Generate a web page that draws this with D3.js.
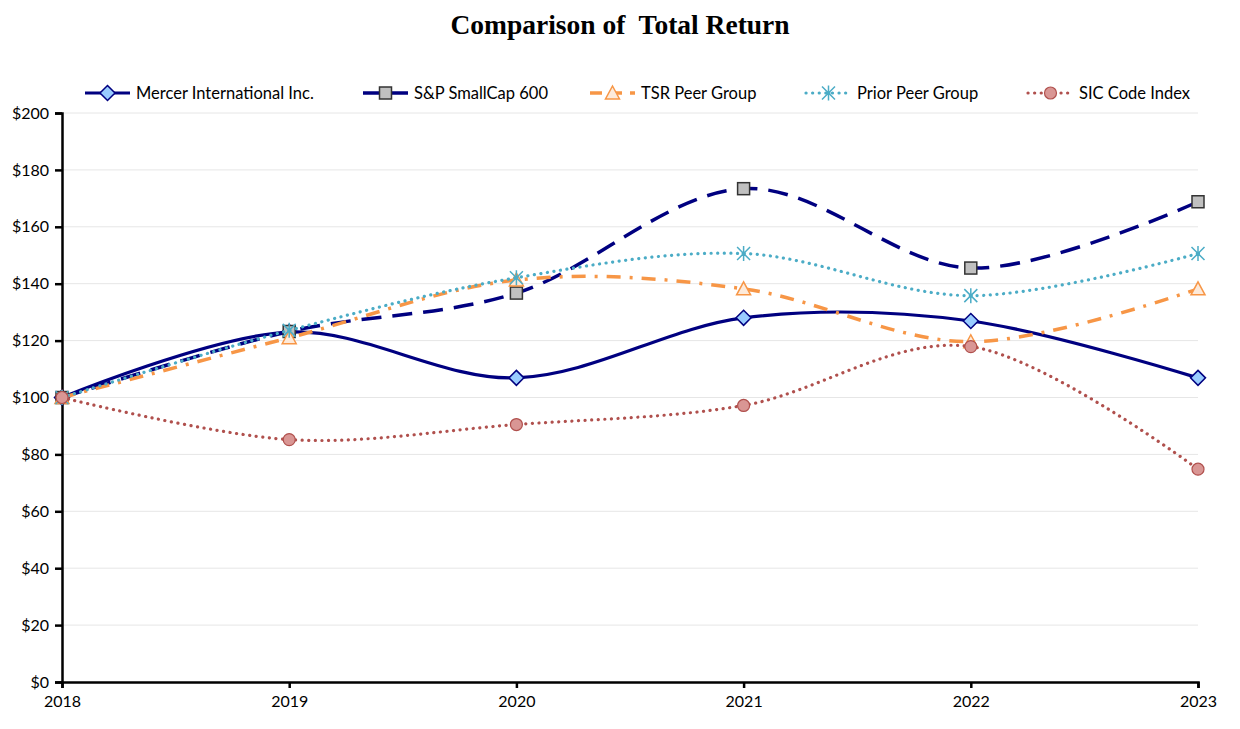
<!DOCTYPE html>
<html><head><meta charset="utf-8">
<script src="https://cdn.jsdelivr.net/npm/d3@7/dist/d3.min.js"></script>
<style>
body{margin:0;background:#fff;}
svg{display:block;}
text{font-family:Lato,"Open Sans",sans-serif;}
</style></head>
<body>
<svg id="c" width="1240" height="729"></svg>
<script>
const years = [2018, 2019, 2020, 2021, 2022, 2023];
const yTicks = [0, 20, 40, 60, 80, 100, 120, 140, 160, 180, 200];
const mercer = [100, 123.0, 106.9, 128.0, 126.9, 106.9];
const spSmallCap = [100, 123.2, 136.7, 173.4, 145.5, 168.8];
const tsrPeer = [100, 121.0, 141.3, 138.2, 119.6, 138.2];
const priorPeer = [100, 123.6, 142.1, 150.6, 135.8, 150.6];
const sicIndex = [100, 85.2, 90.5, 97.2, 117.9, 74.8];

const seriesNames = ["Mercer International Inc.", "S&P SmallCap 600", "TSR Peer Group", "Prior Peer Group", "SIC Code Index"];
const seriesValues = [mercer, spSmallCap, tsrPeer, priorPeer, sicIndex];

const styles = [
  {color:"#000080", width:3.2, dash:null, cap:"butt", marker:"diamond", fill:"#99CCFF", mstroke:"#000080"},
  {color:"#000080", width:3.5, dash:"20,11", cap:"butt", marker:"square", fill:"#C0C0C0", mstroke:"#333333"},
  {color:"#F79646", width:3.5, dash:"14,9,3,9", cap:"butt", marker:"triangle", fill:"#FDEADA", mstroke:"#F79646"},
  {color:"#4BACC6", width:3.2, dash:"0.1,6.5", cap:"round", marker:"star", fill:"none", mstroke:"#4BACC6"},
  {color:"#B0504D", width:3.2, dash:"0.1,6.5", cap:"round", marker:"circle", fill:"#D99694", mstroke:"#B0504D"}
];

const svg = d3.select("#c");
const x = d3.scaleLinear().domain([2018, 2023]).range([62, 1198]);
const y = d3.scaleLinear().domain([0, 200]).range([682, 113]);

// title
svg.append("text").attr("x", 620).attr("y", 34).attr("text-anchor", "middle")
  .style("font-family", "'Liberation Serif','Times New Roman',serif").style("font-weight", "bold")
  .style("font-size", "27.5px").style("white-space", "pre").text("Comparison of  Total Return");

// gridlines
svg.append("g").selectAll("line").data(yTicks.filter(d => d > 0)).join("line")
  .attr("x1", 62).attr("x2", 1198).attr("y1", d => y(d)).attr("y2", d => y(d))
  .attr("stroke", "#e6e6e6").attr("stroke-width", 1);

// axes
const yAxis = d3.axisLeft(y).tickValues(yTicks).tickFormat(d => "$" + d).tickSize(7).tickPadding(6);
const gy = svg.append("g").attr("transform", "translate(62,0)").call(yAxis);
gy.select(".domain").attr("stroke", "#000").attr("stroke-width", 2.5);
gy.selectAll(".tick line").attr("stroke", "#000").attr("stroke-width", 2.5);
gy.selectAll("text").style("font-size", "16px").attr("fill", "#000");

const xAxis = d3.axisBottom(x).tickValues(years).tickFormat(d3.format("d")).tickSize(6).tickPadding(8);
const gx = svg.append("g").attr("transform", "translate(0,682)").call(xAxis);
gx.select(".domain").attr("stroke", "#000").attr("stroke-width", 2.5);
gx.selectAll(".tick line").attr("stroke", "#000").attr("stroke-width", 2.5);
gx.selectAll("text").style("font-size", "16px").attr("fill", "#000");

const line = d3.line().x((d, i) => x(years[i])).y(d => y(d)).curve(d3.curveCatmullRom.alpha(0));

function drawMarker(g, type, cx, cy, st) {
  if (type === "diamond") {
    g.append("path").attr("d", `M${cx},${cy-7.5}L${cx+7.5},${cy}L${cx},${cy+7.5}L${cx-7.5},${cy}Z`)
      .attr("fill", st.fill).attr("stroke", st.mstroke).attr("stroke-width", 1.5);
  } else if (type === "square") {
    g.append("rect").attr("x", cx-6).attr("y", cy-6).attr("width", 12).attr("height", 12)
      .attr("fill", st.fill).attr("stroke", st.mstroke).attr("stroke-width", 1.5);
  } else if (type === "triangle") {
    g.append("path").attr("d", `M${cx},${cy-7}L${cx+7},${cy+6}L${cx-7},${cy+6}Z`)
      .attr("fill", st.fill).attr("stroke", st.mstroke).attr("stroke-width", 1.5);
  } else if (type === "star") {
    const r = 6.5;
    g.append("path").attr("d",
      `M${cx-r},${cy-r}L${cx+r},${cy+r}M${cx-r},${cy+r}L${cx+r},${cy-r}M${cx},${cy-r-1}L${cx},${cy+r+1}M${cx-2},${cy}L${cx+2},${cy}`)
      .attr("stroke", st.mstroke).attr("stroke-width", 1.5).attr("fill", "none");
  } else if (type === "circle") {
    g.append("circle").attr("cx", cx).attr("cy", cy).attr("r", 6)
      .attr("fill", st.fill).attr("stroke", st.mstroke).attr("stroke-width", 1.2);
  }
}

seriesValues.forEach((vals, si) => {
  const st = styles[si];
  const g = svg.append("g");
  g.append("path").attr("d", line(vals)).attr("fill", "none")
    .attr("stroke", st.color).attr("stroke-width", st.width)
    .attr("stroke-dasharray", st.dash).attr("stroke-linecap", st.cap);
  vals.forEach((v, i) => drawMarker(g, st.marker, x(years[i]), y(v), st));
});

// legend
const legendX = [85, 363, 590, 806, 1028];
const legendY = 93;
seriesNames.forEach((name, si) => {
  const st = styles[si];
  const g = svg.append("g");
  const x0 = legendX[si];
  g.append("line").attr("x1", x0).attr("x2", x0 + 45).attr("y1", legendY).attr("y2", legendY)
    .attr("stroke", st.color).attr("stroke-width", st.width)
    .attr("stroke-dasharray", st.dash ? (si === 1 ? "20,8" : si === 2 ? "12,8" : st.dash) : null)
    .attr("stroke-linecap", st.cap);
  drawMarker(g, st.marker, x0 + 22.5, legendY, st);
  g.append("text").attr("x", x0 + 51).attr("y", legendY + 5.5).style("font-size", "16.5px").attr("fill", "#000").text(name);
});
</script>
</body></html>
